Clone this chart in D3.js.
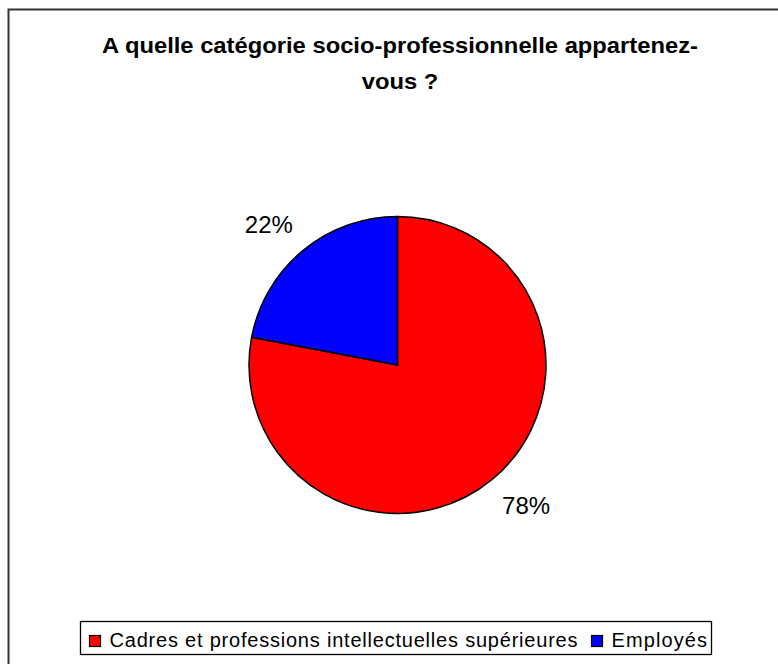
<!DOCTYPE html>
<html><head><meta charset="utf-8">
<script src="https://cdn.jsdelivr.net/npm/d3@7"></script>
<style>body{margin:0;background:#fff}svg{display:block}</style>
</head><body>
<script>
const titleLines = ["A quelle catégorie socio-professionnelle appartenez-", "vous ?"];
const categories = ["Cadres et professions intellectuelles supérieures", "Employés"];
const values = [78, 22];
const colors = ["#FF0000", "#0000FF"];

const W = 778, H = 664;
const svg = d3.select("body").append("svg").attr("width", W).attr("height", H);
svg.append("rect").attr("width", W).attr("height", H).attr("fill", "#fff");
// chart frame
svg.append("rect").attr("x", 8.5).attr("y", 9.5).attr("width", 800).attr("height", 700)
  .attr("fill", "none").attr("stroke", "#333").attr("stroke-width", 2);

const font = "'Liberation Sans', Arial, sans-serif";
const titleTexts = svg.selectAll("text.title").data(titleLines).join("text").attr("class", "title")
  .attr("x", 400).attr("y", (d, i) => 52.5 + i * 36)
  .attr("text-anchor", "middle").attr("font-family", font).attr("font-weight", "bold")
  .attr("font-size", 22).attr("fill", "#000").text(d => d);
const tNat = titleTexts.nodes()[0].getComputedTextLength();
const tK = 596 / tNat;
titleTexts.each(function() {
  const L = this.getComputedTextLength();
  d3.select(this).attr("textLength", L * tK).attr("lengthAdjust", "spacingAndGlyphs");
});

const cx = 397.5, cy = 365, r = 148.5;
const data = categories.map((c, i) => ({cat: c, value: values[i], color: colors[i]}));
const pie = d3.pie().value(d => d.value).sort(null);
const arcs = pie(data);
const arc = d3.arc().innerRadius(0).outerRadius(r);
const g = svg.append("g").attr("transform", `translate(${cx},${cy})`);
g.selectAll("path").data(arcs).join("path")
  .attr("d", arc).attr("fill", d => d.data.color)
  .attr("stroke", "#000").attr("stroke-width", 1.5).attr("stroke-linejoin", "round");

const total = d3.sum(values);
const fmt = v => Math.round(v / total * 100) + "%";
const lr = 172;
g.selectAll("text.lbl").data(arcs).join("text").attr("class", "lbl")
  .attr("font-family", font).attr("font-size", 24).attr("fill", "#000")
  .attr("text-anchor", "middle")
  .each(function(d) {
    const a = (d.startAngle + d.endAngle) / 2;
    const dx = Math.sin(a), dy = -Math.cos(a);
    const x = dx * lr + Math.sign(dx) * 19;
    const y = dy * lr + Math.sign(dy) * 8;
    d3.select(this).attr("x", x).attr("y", y).attr("dy", "0.35em").text(fmt(d.data.value));
  });

// legend
const lg = svg.append("g");
const lx0 = 80.5, ly0 = 621.5, lh = 33;
const items = lg.selectAll("g.item").data(data).join("g").attr("class", "item");
let x = lx0 + 9;
const lfs = 20;
let lK = null;
items.each(function(d, i) {
  const it = d3.select(this);
  it.append("rect").attr("x", x).attr("y", 635.5).attr("width", 11).attr("height", 11)
    .attr("fill", d.color).attr("stroke", "#000").attr("stroke-width", 1.2);
  const t = it.append("text").attr("x", x + 20).attr("y", 647).attr("font-family", font)
    .attr("font-size", lfs).attr("fill", "#000").text(d.cat);
  const nat = t.node().getComputedTextLength();
  if (lK === null) lK = 468 / nat;
  const L = nat * lK;
  t.attr("textLength", L).attr("lengthAdjust", "spacing");
  x += 20 + L + 14;
});
lg.insert("rect", ":first-child").attr("x", lx0).attr("y", ly0).attr("width", 631).attr("height", lh)
  .attr("fill", "#fff").attr("stroke", "#000").attr("stroke-width", 1.3);
</script>
</body></html>
